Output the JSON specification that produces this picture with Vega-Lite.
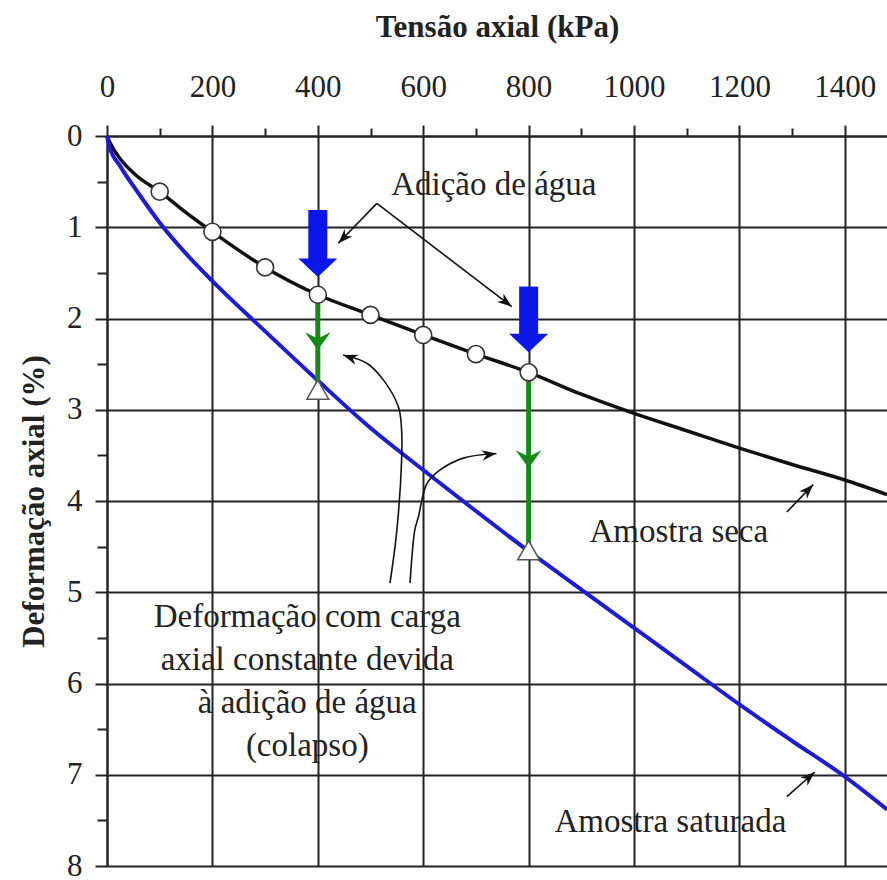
{
  "$schema": "https://vega.github.io/schema/vega-lite/v6.json",
  "width": 780,
  "height": 730,
  "autosize": {"type": "none"},
  "padding": {"left": 107, "top": 136, "right": 0, "bottom": 14},
  "background": "white",
  "config": {
    "view": {"stroke": null},
    "font": "Liberation Serif",
    "axis": {
      "labelFont": "Liberation Serif", "labelFontSize": 31, "labelColor": "#222",
      "titleFont": "Liberation Serif", "titleFontSize": 31, "titleFontWeight": "bold", "titleColor": "#222",
      "domainColor": "#222", "domainWidth": 2, "tickColor": "#222", "tickWidth": 2,
      "gridColor": "#222", "gridWidth": 2
    }
  },
  "datasets": {
    "dry": [
      {"kpa": 0, "def": 0}, {"kpa": 8, "def": 0.1}, {"kpa": 25, "def": 0.25}, {"kpa": 55, "def": 0.43},
      {"kpa": 100, "def": 0.61}, {"kpa": 150, "def": 0.84}, {"kpa": 200, "def": 1.05}, {"kpa": 300, "def": 1.44},
      {"kpa": 400, "def": 1.74}, {"kpa": 500, "def": 1.96}, {"kpa": 600, "def": 2.18}, {"kpa": 700, "def": 2.39},
      {"kpa": 800, "def": 2.59}, {"kpa": 900, "def": 2.83}, {"kpa": 1000, "def": 3.04}, {"kpa": 1100, "def": 3.23},
      {"kpa": 1200, "def": 3.42}, {"kpa": 1300, "def": 3.6}, {"kpa": 1400, "def": 3.77}, {"kpa": 1480, "def": 3.93}
    ],
    "sat": [
      {"kpa": 0, "def": 0}, {"kpa": 5, "def": 0.12}, {"kpa": 25, "def": 0.33}, {"kpa": 60, "def": 0.63},
      {"kpa": 100, "def": 0.95}, {"kpa": 150, "def": 1.29}, {"kpa": 200, "def": 1.59}, {"kpa": 300, "def": 2.14},
      {"kpa": 400, "def": 2.68}, {"kpa": 500, "def": 3.2}, {"kpa": 600, "def": 3.66}, {"kpa": 700, "def": 4.11},
      {"kpa": 800, "def": 4.55}, {"kpa": 900, "def": 4.97}, {"kpa": 1000, "def": 5.39}, {"kpa": 1100, "def": 5.81},
      {"kpa": 1200, "def": 6.23}, {"kpa": 1300, "def": 6.63}, {"kpa": 1400, "def": 7.02}, {"kpa": 1480, "def": 7.38}
    ],
    "tests": [
      {"kpa": 100, "def": 0.61}, {"kpa": 200, "def": 1.05}, {"kpa": 300, "def": 1.44}, {"kpa": 400, "def": 1.74},
      {"kpa": 500, "def": 1.96}, {"kpa": 600, "def": 2.18}, {"kpa": 700, "def": 2.39}, {"kpa": 800, "def": 2.59}
    ],
    "collapse": [
      {"kpa": 400, "top": 1.74, "bottom": 2.78, "head": 2.345},
      {"kpa": 800, "top": 2.59, "bottom": 4.54, "head": 3.64}
    ],
    "water": [
      {"kpa": 400, "top": 0.81, "base": 1.37, "tip": 1.545},
      {"kpa": 800, "top": 1.65, "base": 2.2, "tip": 2.37}
    ],
    "pointers": [
      {"id": "a1", "kind": "straight", "x1": 512, "y1": 0.738, "x2": 439, "y2": 1.176},
      {"id": "a2", "kind": "straight", "x1": 512, "y1": 0.738, "x2": 768, "y2": 1.87},
      {"id": "seca", "kind": "straight", "x1": 1290, "y1": 4.12, "x2": 1340, "y2": 3.82},
      {"id": "sat", "kind": "straight", "x1": 1290, "y1": 7.24, "x2": 1343, "y2": 6.97},
      {"id": "c1", "kind": "curve", "x1": 493, "y1": 2.49, "x2": 448, "y2": 2.40},
      {"id": "c2", "kind": "curve", "x1": 676, "y1": 3.53, "x2": 739, "y2": 3.48}
    ],
    "curves": [
      {"id": "c1", "ord": 1, "kpa": 537, "def": 4.90}, {"id": "c1", "ord": 2, "kpa": 550, "def": 4.32},
      {"id": "c1", "ord": 3, "kpa": 559, "def": 3.55}, {"id": "c1", "ord": 4, "kpa": 559, "def": 3.22},
      {"id": "c1", "ord": 5, "kpa": 553, "def": 2.97}, {"id": "c1", "ord": 6, "kpa": 524, "def": 2.67},
      {"id": "c1", "ord": 7, "kpa": 493, "def": 2.49}, {"id": "c1", "ord": 8, "kpa": 448, "def": 2.40},
      {"id": "c2", "ord": 1, "kpa": 575, "def": 4.90}, {"id": "c2", "ord": 2, "kpa": 584, "def": 4.32},
      {"id": "c2", "ord": 3, "kpa": 591, "def": 4.17}, {"id": "c2", "ord": 4, "kpa": 607, "def": 3.81},
      {"id": "c2", "ord": 5, "kpa": 632, "def": 3.66}, {"id": "c2", "ord": 6, "kpa": 676, "def": 3.53},
      {"id": "c2", "ord": 7, "kpa": 739, "def": 3.48}
    ],
    "notes": [
      {"kpa": 734, "def": 0.647, "text": "Adição de água"},
      {"kpa": 1085, "def": 4.45, "text": "Amostra seca"},
      {"kpa": 1069, "def": 7.63, "text": "Amostra saturada"},
      {"kpa": 380, "def": 5.38, "text": "Deformação com carga\naxial constante devida\nà adição de água\n(colapso)"}
    ]
  },
  "layer": [
    {
      "data": {"name": "dry"},
      "mark": {"type": "line", "color": "#111", "strokeWidth": 3.5, "interpolate": "monotone"},
      "encoding": {
        "x": {
          "field": "kpa", "type": "quantitative", "title": "Tensão axial (kPa)",
          "scale": {"domain": [0, 1480], "nice": false, "zero": false},
          "axis": {
            "orient": "top",
            "values": [0, 100, 200, 300, 400, 500, 600, 700, 800, 900, 1000, 1100, 1200, 1300, 1400],
            "labelExpr": "datum.value % 200 == 0 ? format(datum.value, 'd') : ''",
            "tickSize": {"condition": {"test": "datum.value % 200 == 0", "value": 11}, "value": 8},
            "gridOpacity": {"condition": {"test": "datum.value % 200 == 0", "value": 1}, "value": 0},
            "labelPadding": 22, "titlePadding": 28, "labelFlush": false, "labelOverlap": false
          }
        },
        "y": {
          "field": "def", "type": "quantitative", "title": "Deformação axial (%)",
          "scale": {"domain": [0, 8], "reverse": true, "nice": false, "zero": false},
          "axis": {
            "values": [0, 0.5, 1, 1.5, 2, 2.5, 3, 3.5, 4, 4.5, 5, 5.5, 6, 6.5, 7, 7.5, 8],
            "labelExpr": "datum.value % 1 == 0 ? format(datum.value, 'd') : ''",
            "tickSize": {"condition": {"test": "datum.value % 1 == 0", "value": 12}, "value": 10},
            "gridOpacity": {"condition": {"test": "datum.value % 1 == 0", "value": 1}, "value": 0},
            "labelPadding": 13, "titlePadding": 16, "labelFlush": false, "labelOverlap": false
          }
        }
      }
    },
    {
      "data": {"name": "sat"},
      "mark": {"type": "line", "color": "#1c1cd6", "strokeWidth": 4, "interpolate": "monotone"},
      "encoding": {
        "x": {"field": "kpa", "type": "quantitative"},
        "y": {"field": "def", "type": "quantitative"}
      }
    },
    {
      "data": {"name": "collapse"},
      "mark": {"type": "rule", "color": "#168a16", "strokeWidth": 5},
      "encoding": {
        "x": {"field": "kpa", "type": "quantitative"},
        "y": {"field": "top", "type": "quantitative"},
        "y2": {"field": "bottom"}
      }
    },
    {
      "data": {"name": "collapse"},
      "mark": {"type": "point", "shape": "M0,0L-1,-1.4L0,-0.9L1,-1.4Z", "filled": true, "color": "#168a16", "opacity": 1, "size": 650},
      "encoding": {
        "x": {"field": "kpa", "type": "quantitative"},
        "y": {"field": "head", "type": "quantitative"}
      }
    },
    {
      "data": {"name": "water"},
      "mark": {"type": "rule", "color": "#0b16e8", "strokeWidth": 19, "strokeCap": "butt"},
      "encoding": {
        "x": {"field": "kpa", "type": "quantitative"},
        "y": {"field": "top", "type": "quantitative"},
        "y2": {"field": "base"}
      }
    },
    {
      "data": {"name": "water"},
      "mark": {"type": "point", "shape": "M0,0L-1,-0.95L1,-0.95Z", "filled": true, "color": "#0b16e8", "opacity": 1, "size": 1521},
      "encoding": {
        "x": {"field": "kpa", "type": "quantitative"},
        "y": {"field": "tip", "type": "quantitative"}
      }
    },
    {
      "data": {"name": "tests"},
      "mark": {"type": "point", "shape": "circle", "filled": true, "fill": "white", "stroke": "#333", "strokeWidth": 1.6, "opacity": 1, "size": 290},
      "encoding": {
        "x": {"field": "kpa", "type": "quantitative"},
        "y": {"field": "def", "type": "quantitative"}
      }
    },
    {
      "data": {"name": "collapse"},
      "mark": {"type": "point", "shape": "triangle-up", "filled": true, "fill": "white", "stroke": "#555", "strokeWidth": 1.5, "opacity": 1, "size": 480},
      "encoding": {
        "x": {"field": "kpa", "type": "quantitative"},
        "y": {"field": "bottom", "type": "quantitative"}
      }
    },
    {
      "data": {"name": "pointers"},
      "transform": [{"filter": "datum.kind == 'straight'"}],
      "mark": {"type": "rule", "color": "#111", "strokeWidth": 1.6},
      "encoding": {
        "x": {"field": "x1", "type": "quantitative"},
        "y": {"field": "y1", "type": "quantitative"},
        "x2": {"field": "x2"},
        "y2": {"field": "y2"}
      }
    },
    {
      "data": {"name": "curves"},
      "mark": {"type": "line", "color": "#111", "strokeWidth": 1.6, "interpolate": "catmull-rom"},
      "encoding": {
        "x": {"field": "kpa", "type": "quantitative"},
        "y": {"field": "def", "type": "quantitative"},
        "detail": {"field": "id"},
        "order": {"field": "ord", "type": "quantitative"}
      }
    },
    {
      "data": {"name": "pointers"},
      "transform": [{"calculate": "atan2((datum.x2 - datum.x1) * 0.527, -(datum.y2 - datum.y1) * 91.25) * 180 / PI", "as": "ang"}],
      "mark": {"type": "point", "shape": "M0,0L-0.55,1.5L0,1.05L0.55,1.5Z", "filled": true, "color": "#111", "opacity": 1, "size": 380},
      "encoding": {
        "x": {"field": "x2", "type": "quantitative"},
        "y": {"field": "y2", "type": "quantitative"},
        "angle": {"field": "ang", "type": "quantitative", "scale": null}
      }
    },
    {
      "data": {"name": "notes"},
      "mark": {"type": "text", "font": "Liberation Serif", "fontSize": 33, "color": "#222", "align": "center", "baseline": "alphabetic", "lineBreak": "\n", "lineHeight": 43},
      "encoding": {
        "x": {"field": "kpa", "type": "quantitative"},
        "y": {"field": "def", "type": "quantitative"},
        "text": {"field": "text"}
      }
    }
  ]
}
